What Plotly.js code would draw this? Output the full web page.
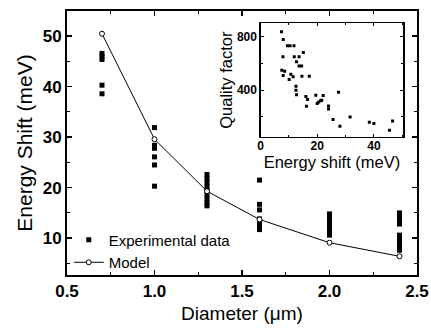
<!DOCTYPE html>
<html><head><meta charset="utf-8">
<script src="https://cdn.plot.ly/plotly-3.0.1.min.js"></script>
<style>html,body{margin:0;padding:0;background:#fff}#c{width:431px;height:328px}</style>
</head><body><div id="c"></div>
<script>
// Main panel: energy shift vs diameter
const expDiameter = [0.7,0.7,0.7,0.7,0.7,
  1.0,1.0,1.0,1.0,1.0,1.0,
  1.3,1.3,1.3,1.3,1.3,1.3,1.3,1.3,1.3,
  1.6,1.6,1.6,1.6,1.6,1.6,1.6,
  2.0,2.0,2.0,2.0,2.0,2.0,2.0,2.0,
  2.4,2.4,2.4,2.4,2.4,2.4,2.4,2.4,2.4];
const expShift = [46.6,46.0,45.4,40.3,38.6,
  31.9,28.4,27.8,26.1,24.5,20.3,
  22.6,21.8,21.0,20.2,19.4,18.6,17.8,17.0,16.4,
  21.5,16.7,15.6,13.8,13.0,12.3,11.7,
  14.8,14.2,13.6,13.0,12.4,11.8,11.2,10.6,
  15.0,14.3,13.6,12.8,10.6,9.8,9.0,8.2,7.6];
const modelDiameter = [0.7,1.0,1.3,1.6,2.0,2.4];
const modelShift = [50.5,29.6,19.3,13.7,9.1,6.4];
// Inset: quality factor vs energy shift
const insetShift = [7.4,8.0,9.5,10.4,11.8,7.9,11.9,13.6,15.1,12.7,13.6,14.5,7.5,8.5,8.0,10.7,11.5,10.1,14.6,17.2,
  12.5,12.5,12.7,16.0,16.6,16.2,19.5,22.1,20.0,20.5,21.2,21.6,24.0,24.0,27.5,25.6,28.0,31.6,38.4,40.0,45.5,46.6];
const insetQ = [837,780,732,732,732,650,650,650,682,612,582,582,550,542,510,520,500,480,505,505,
  430,400,365,352,330,280,362,360,300,312,320,325,282,260,385,180,130,200,160,150,100,170];

const FONT = 'Arial, "Liberation Sans", sans-serif';
const axBase = {showgrid:false, zeroline:false, showline:true, linecolor:'#000', linewidth:2,
  mirror:'allticks', ticks:'inside', tickcolor:'#000', tickwidth:1.5, ticklen:5};

const traces = [
  {x: expDiameter, y: expShift, mode:'markers', type:'scatter', name:'Experimental data',
   marker:{symbol:'square', size:5, color:'#000'}, xaxis:'x', yaxis:'y'},
  {x: modelDiameter, y: modelShift, mode:'lines+markers', type:'scatter', name:'Model',
   line:{color:'#000', width:1},
   marker:{symbol:'circle', size:5, color:'#fff', line:{color:'#000', width:1}}, xaxis:'x', yaxis:'y'},
  {x: insetShift, y: insetQ, mode:'markers', type:'scatter', showlegend:false,
   marker:{symbol:'square', size:3, color:'#000'}, xaxis:'x2', yaxis:'y2'}
];

const layout = {
  width:431, height:328, paper_bgcolor:'#fff', plot_bgcolor:'#fff',
  margin:{l:67, r:14, t:11, b:53},
  font:{family:FONT, color:'#000'},
  showlegend:true,
  legend:{x:0.005, y:0.195, xanchor:'left', yanchor:'top', bgcolor:'rgba(0,0,0,0)',
    font:{size:15, family:FONT}, tracegroupgap:0, itemwidth:30},
  xaxis:Object.assign({}, axBase, {range:[0.5,2.5], tick0:0.5, dtick:0.5,
    tickformat:'.1f', tickfont:{size:17, weight:'bold'},
    minor:{dtick:0.25, ticks:'inside', ticklen:3, tickcolor:'#000', tickwidth:1},
    title:{text:'Diameter (\u03bcm)', font:{size:19}, standoff:6}}),
  yaxis:Object.assign({}, axBase, {range:[2.7,55], tick0:0, dtick:10,
    tickfont:{size:17, weight:'bold'},
    minor:{dtick:5, ticks:'inside', ticklen:3, tickcolor:'#000', tickwidth:1},
    title:{text:'Energy Shift (meV)', font:{size:21}, standoff:4}}),
  xaxis2:Object.assign({}, axBase, {domain:[0.553,0.961], anchor:'y2', range:[0,50.4],
    linewidth:1.2, ticklen:3, tickwidth:1, tick0:0, dtick:20, ticklabelstandoff:-3,
    tickfont:{size:12, weight:'bold'},
    minor:{dtick:10, ticks:'inside', ticklen:2, tickcolor:'#000', tickwidth:1},
    title:{text:'Energy shift (meV)', font:{size:16.5}, standoff:0}}),
  yaxis2:Object.assign({}, axBase, {domain:[0.523,0.953], anchor:'x2', range:[50,900],
    linewidth:1.2, ticklen:3, tickwidth:1, tick0:0, dtick:400,
    tickfont:{size:12, weight:'bold'},
    minor:{dtick:200, ticks:'inside', ticklen:2, tickcolor:'#000', tickwidth:1},
    title:{text:'Quality factor', font:{size:16.5}, standoff:0}})
};

Plotly.newPlot('c', traces, layout, {displayModeBar:false, staticPlot:true});
</script></body></html>
